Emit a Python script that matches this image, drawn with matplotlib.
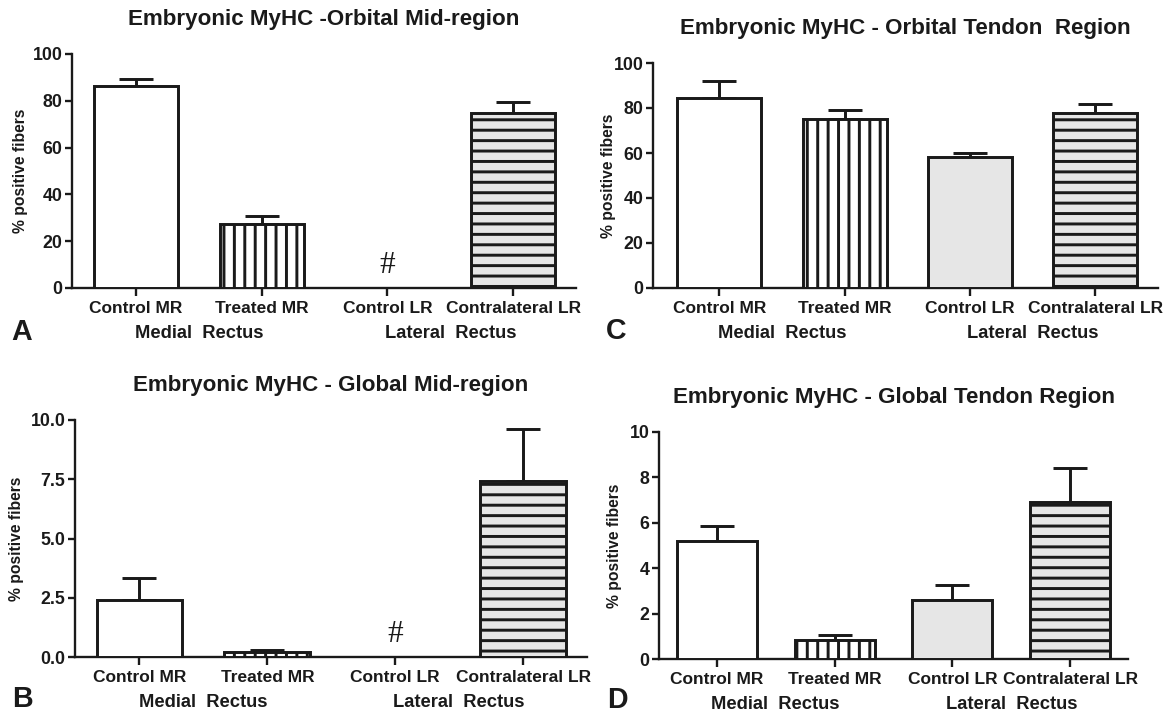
import numpy as np
import matplotlib
matplotlib.use("Agg")
import matplotlib.pyplot as plt
from matplotlib.ticker import MultipleLocator, FormatStrFormatter

# Embryonic MyHC, % positive fibers (mean + SEM)
categories = ['Control MR', 'Treated MR', 'Control LR', 'Contralateral LR']
groups = ['Medial  Rectus', 'Lateral  Rectus']

# None = not detected (shown with #)
orbital_mid_mean = [86.4, 27.4, None, 74.6]
orbital_mid_sem = [2.8, 3.5, None, 5.0]

orbital_tendon_mean = [84.6, 75.0, 58.3, 77.8]
orbital_tendon_sem = [7.4, 4.3, 1.8, 4.0]

global_mid_mean = [2.39, 0.21, None, 7.44]
global_mid_sem = [0.96, 0.10, None, 2.17]

global_tendon_mean = [5.21, 0.82, 2.58, 6.90]
global_tendon_sem = [0.66, 0.22, 0.69, 1.51]

hatches = ['', '||', '', '--']
fills = ['white', 'white', '#e6e6e6', '#e6e6e6']
INK = '#1a1a1a'

W, H, DPI = 1173, 717, 125
plt.rcParams['font.family'] = ['Liberation Sans', 'DejaVu Sans']
plt.rcParams['font.weight'] = 'bold'
plt.rcParams['hatch.linewidth'] = 1.7
plt.rcParams['hatch.color'] = INK

fig = plt.figure(figsize=(W / DPI, H / DPI), dpi=DPI)

# panel layout in pixels: left, right, bottom, top, xlim, bar width, letter pos, ylabel right edge
panels = [
    dict(title='Embryonic MyHC -Orbital Mid-region', mean=orbital_mid_mean, sem=orbital_mid_sem,
         box=(72, 576, 288, 54), xlim=(-0.51, 3.50), width=0.67, ymax=100, step=20, fmt='%d',
         letter='A', lpos=(22, 332), ylab_x=28),
    dict(title='Embryonic MyHC - Orbital Tendon  Region', mean=orbital_tendon_mean, sem=orbital_tendon_sem,
         box=(653, 1158, 288, 63), xlim=(-0.53, 3.50), width=0.67, ymax=100, step=20, fmt='%d',
         letter='C', lpos=(616, 331), ylab_x=616),
    dict(title='Embryonic MyHC - Global Mid-region', mean=global_mid_mean, sem=global_mid_sem,
         box=(75, 587, 657, 420), xlim=(-0.504, 3.50), width=0.67, ymax=10, step=2.5, fmt='%.1f',
         letter='B', lpos=(22, 699), ylab_x=24),
    dict(title='Embryonic MyHC - Global Tendon Region', mean=global_tendon_mean, sem=global_tendon_sem,
         box=(659, 1128, 659, 432), xlim=(-0.49, 3.49), width=0.68, ymax=10, step=2, fmt='%d',
         letter='D', lpos=(617, 700), ylab_x=622),
]

x = np.arange(len(categories))

for p in panels:
    l, r, b, t = p['box']
    ax = fig.add_axes([l / W, 1 - b / H, (r - l) / W, (b - t) / H])

    shown = [i for i, v in enumerate(p['mean']) if v is not None]
    for i in shown:
        ax.bar(x[i], p['mean'][i], width=p['width'], color=fills[i], edgecolor=INK,
               linewidth=1.7, hatch=hatches[i], zorder=3)
    means = np.array([p['mean'][i] for i in shown])
    sems = np.array([p['sem'][i] for i in shown])
    ax.errorbar(x[shown], means, yerr=[np.zeros_like(sems), sems], fmt='none',
                ecolor=INK, elinewidth=1.7, capsize=9.8, capthick=1.7, zorder=2)

    # not detected marker
    for i, v in enumerate(p['mean']):
        if v is None:
            ax.annotate('#', xy=(x[i], 0), xycoords='data', xytext=(0, 13),
                        textcoords='offset points', ha='center', va='center',
                        fontsize=18, fontweight='normal', family='Liberation Serif', color=INK)

    ax.set_xlim(*p['xlim'])
    ax.set_ylim(0, p['ymax'])
    ax.yaxis.set_major_locator(MultipleLocator(p['step']))
    ax.yaxis.set_major_formatter(FormatStrFormatter(p['fmt']))
    ax.set_xticks(x)
    ax.set_xticklabels(categories)
    for s in ['top', 'right']:
        ax.spines[s].set_visible(False)
    for s in ['left', 'bottom']:
        ax.spines[s].set_linewidth(1.35)
        ax.spines[s].set_color(INK)
    ax.tick_params(axis='y', direction='out', length=4, width=1.35, color=INK, pad=1.5,
                   labelsize=10.2, labelcolor=INK)
    ax.tick_params(axis='x', direction='out', length=4.5, width=1.35, color=INK, pad=3,
                   labelsize=10.0, labelcolor=INK)

    ax.set_ylabel('% positive fibers', fontsize=9, fontweight='bold', color=INK)
    ax.yaxis.set_label_coords(p['ylab_x'] / W, 1 - (b + t) / 2 / H, transform=fig.transFigure)

    ax.annotate(p['title'], xy=(0.5, 1), xycoords='axes fraction', xytext=(0, 20),
                textcoords='offset points', ha='center', va='center', fontsize=12.9, color=INK)

    for g, name in enumerate(groups):
        ax.annotate(name, xy=(2 * g + 0.5, 0), xycoords=('data', 'axes fraction'),
                    xytext=(0, -26), textcoords='offset points', ha='center', va='center',
                    fontsize=10.6, color=INK)

    fig.text(p['lpos'][0] / W, 1 - p['lpos'][1] / H, p['letter'], ha='center', va='center',
             fontsize=16.5, color=INK)

fig.savefig('out.png', dpi=DPI)
